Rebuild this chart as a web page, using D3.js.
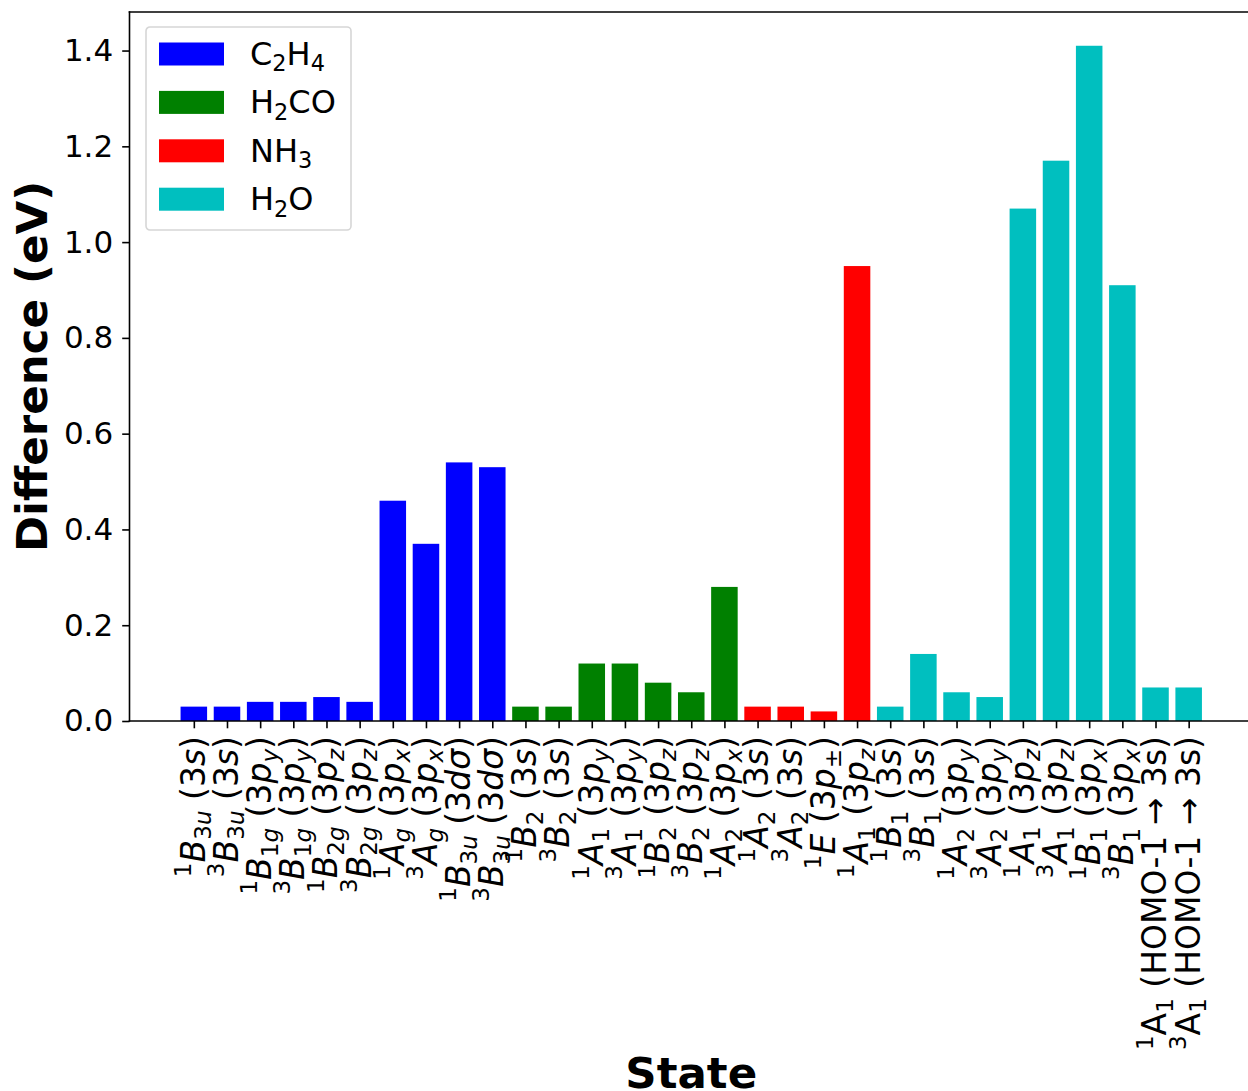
<!DOCTYPE html>
<html>
<head>
<meta charset="utf-8">
<script src="https://cdn.jsdelivr.net/npm/d3@7"></script>
<style>
  body { margin: 0; background: white; }
  svg text { font-family: "DejaVu Sans", sans-serif; }
</style>
</head>
<body>
<svg id="fig"></svg>
<script>
var w_fig = 1248; // canvas size
var h_fig = 1091;

var x_left = 129.5; // axes box
var x_right = 1253;
var y_top = 12;
var y_bottom = 721;

var fs_ytick = 31; // font sizes
var fs_xtick = 33;
var fs_legend = 32;
var fs_label = 43.5;

// Molecules and their bar colours
var molecules = ["C$_2$H$_4$", "H$_2$CO", "NH$_3$", "H$_2$O"];
var mol_colors = ["#0000ff", "#008000", "#ff0000", "#00bfbf"];

// States (matplotlib style mathtext) and differences in eV, per molecule
var c2h4_states = ["$^1B_{3u}$ (3$s$)", "$^3B_{3u}$ (3$s$)", "$^1B_{1g}$ (3$p_y$)", "$^3B_{1g}$ (3$p_y$)",
                   "$^1B_{2g}$ (3$p_z$)", "$^3B_{2g}$ (3$p_z$)", "$^1A_g$ (3$p_x$)", "$^3A_g$ (3$p_x$)",
                   "$^1B_{3u}$ (3$d\u03c3$)", "$^3B_{3u}$ (3$d\u03c3$)"];
var c2h4_diff = [0.03, 0.03, 0.04, 0.04, 0.05, 0.04, 0.46, 0.37, 0.54, 0.53];

var h2co_states = ["$^1B_2$ (3$s$)", "$^3B_2$ (3$s$)", "$^1A_1$ (3$p_y$)", "$^3A_1$ (3$p_y$)",
                   "$^1B_2$ (3$p_z$)", "$^3B_2$ (3$p_z$)", "$^1A_2$ (3$p_x$)"];
var h2co_diff = [0.03, 0.03, 0.12, 0.12, 0.08, 0.06, 0.28];

var nh3_states = ["$^1A_2$ (3$s$)", "$^3A_2$ (3$s$)", "$^1E$ (3$p_\u00b1$)", "$^1A_1$ (3$p_z$)"];
var nh3_diff = [0.03, 0.03, 0.02, 0.95];

var h2o_states = ["$^1B_1$ (3$s$)", "$^3B_1$ (3$s$)", "$^1A_2$ (3$p_y$)", "$^3A_2$ (3$p_y$)",
                  "$^1A_1$ (3$p_z$)", "$^3A_1$ (3$p_z$)", "$^1B_1$ (3$p_x$)", "$^3B_1$ (3$p_x$)",
                  "$^1$A$_1$ (HOMO-1 \u2192 3s)", "$^3$A$_1$ (HOMO-1 \u2192 3s)"];
var h2o_diff = [0.03, 0.14, 0.06, 0.05, 1.07, 1.17, 1.41, 0.91, 0.07, 0.07];

var y_ticks = [0, 0.2, 0.4, 0.6, 0.8, 1.0, 1.2, 1.4];

// Flatten into one list of bars
var groups = [[c2h4_states, c2h4_diff], [h2co_states, h2co_diff], [nh3_states, nh3_diff], [h2o_states, h2o_diff]];
var bars = [];
groups.forEach(function(g, m) {
  g[0].forEach(function(s, j) {
    bars.push({ state: s, value: g[1][j], mol: m, i: bars.length });
  });
});

// Scales: matplotlib default 5% margins round the bars
var n_bars = bars.length;
var x = d3.scaleLinear().domain([-0.4 - 0.05 * (n_bars - 0.2), n_bars - 0.6 + 0.05 * (n_bars - 0.2)]).range([x_left, x_right]);
var y_max = d3.max(bars, function(d) { return d.value; }) * 1.05;
var y = d3.scaleLinear().domain([0, y_max]).range([y_bottom, y_top]);
var bar_w = x(0.8) - x(0);

// Splits a mathtext-ish string into runs of {text, italic, level}
function parseLabel(s) {
  var segs = [];
  var math = false;
  var i = 0;
  function push(ch, lvl) {
    var it = math && /[A-Za-z\u03c3]/.test(ch);
    var last = segs[segs.length - 1];
    if (last && last.it == it && last.lvl == lvl) last.t += ch;
    else segs.push({ t: ch, it: it, lvl: lvl });
  }
  while (i < s.length) {
    var c = s[i];
    if (c == "$") { math = !math; i++; continue; }
    if (math && (c == "^" || c == "_")) {
      var lvl = c == "^" ? 1 : -1;
      i++;
      if (s[i] == "{") {
        var j = s.indexOf("}", i);
        s.slice(i + 1, j).split("").forEach(function(ch) { push(ch, lvl); });
        i = j + 1;
      } else {
        push(s[i], lvl);
        i++;
      }
      continue;
    }
    push(c, 0);
    i++;
  }
  return segs;
}

// Writes the runs into a text element as tspans with super/subscripts
function richText(textSel, str, fs) {
  var cur = 0;
  parseLabel(str).forEach(function(seg) {
    var off = seg.lvl == 1 ? -0.42 * fs : (seg.lvl == -1 ? 0.2 * fs : 0);
    textSel.append("tspan")
      .attr("dy", off - cur)
      .attr("font-size", seg.lvl == 0 ? fs : 0.7 * fs)
      .attr("font-style", seg.it ? "italic" : "normal")
      .style("white-space", "pre")
      .text(seg.t);
    cur = off;
  });
}

function gpos(x, y) {
  return "translate(" + x + "," + y + ")";
}

var svg = d3.select("#fig").attr("width", w_fig).attr("height", h_fig);
svg.append("rect").attr("width", w_fig).attr("height", h_fig).attr("fill", "white");

// Bars
svg.append("g").attr("id", "bars").selectAll("rect").data(bars).enter().append("rect")
  .attr("x", function(d) { return x(d.i) - bar_w / 2; })
  .attr("y", function(d) { return y(d.value); })
  .attr("width", bar_w)
  .attr("height", function(d) { return y(0) - y(d.value); })
  .attr("fill", function(d) { return mol_colors[d.mol]; });

// Y axis
var yAxis = svg.append("g").attr("transform", gpos(x_left, 0))
  .call(d3.axisLeft(y).tickValues(y_ticks).tickFormat(d3.format(".1f")).tickSize(7.3).tickPadding(9).tickSizeOuter(0));
yAxis.select(".domain").remove();
yAxis.selectAll(".tick line").attr("stroke", "black").attr("stroke-width", 1.6);
yAxis.selectAll(".tick text").attr("font-size", fs_ytick).attr("font-family", "DejaVu Sans").attr("fill", "black");

// X axis: ticks only, labels are drawn below
var xAxis = svg.append("g").attr("transform", gpos(0, y_bottom))
  .call(d3.axisBottom(x).tickValues(d3.range(n_bars)).tickFormat("").tickSize(7.3).tickSizeOuter(0));
xAxis.select(".domain").remove();
xAxis.selectAll(".tick line").attr("stroke", "black").attr("stroke-width", 1.6);

// Rotated state labels
svg.append("g").attr("id", "x-labels").selectAll("g").data(bars).enter().append("g")
  .attr("transform", function(d) { return gpos(x(d.i), y_bottom + 15) + " rotate(-90)"; })
  .each(function(d) {
    var t = d3.select(this).append("text")
      .attr("text-anchor", "end")
      .attr("y", 0.33 * fs_xtick)
      .attr("fill", "black");
    richText(t, d.state, fs_xtick);
  });

// Spines
var spines = svg.append("g").attr("stroke", "black").attr("stroke-width", 1.6).attr("stroke-linecap", "square");
spines.append("line").attr("x1", x_left).attr("y1", y_top).attr("x2", x_left).attr("y2", y_bottom);
spines.append("line").attr("x1", x_left).attr("y1", y_bottom).attr("x2", x_right).attr("y2", y_bottom);
spines.append("line").attr("x1", x_left).attr("y1", y_top).attr("x2", x_right).attr("y2", y_top);
spines.append("line").attr("x1", x_right).attr("y1", y_top).attr("x2", x_right).attr("y2", y_bottom);

// Axis titles
svg.append("text")
  .attr("transform", gpos(47, (y_top + y_bottom) / 2) + " rotate(-90)")
  .attr("text-anchor", "middle")
  .attr("font-size", fs_label)
  .attr("font-weight", "bold")
  .text("Difference (eV)");
svg.append("text")
  .attr("x", (x_left + x_right) / 2)
  .attr("y", 1088)
  .attr("text-anchor", "middle")
  .attr("font-size", fs_label)
  .attr("font-weight", "bold")
  .text("State");

// Legend
var legend = svg.append("g").attr("id", "legend").attr("transform", gpos(146, 27));
legend.append("rect")
  .attr("width", 205).attr("height", 203)
  .attr("rx", 4).attr("ry", 4)
  .attr("fill", "white").attr("fill-opacity", 0.8)
  .attr("stroke", "#d6d6d6").attr("stroke-width", 1.6);
var entries = legend.selectAll("g.entry").data(molecules).enter().append("g")
  .attr("class", "entry")
  .attr("transform", function(d, i) { return gpos(0, 27 + i * 48.4); });
entries.append("rect")
  .attr("x", 13).attr("y", -11.5)
  .attr("width", 65).attr("height", 23)
  .attr("fill", function(d, i) { return mol_colors[i]; });
entries.each(function(d) {
  var t = d3.select(this).append("text").attr("x", 104).attr("y", 11).attr("fill", "black");
  richText(t, d, fs_legend);
});
</script>
</body>
</html>
